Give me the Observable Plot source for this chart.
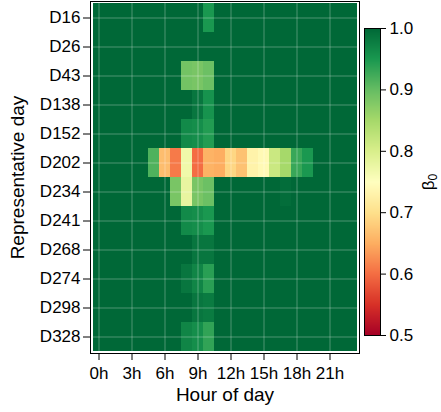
<!DOCTYPE html>
<html><head><meta charset="utf-8">
<script src="https://cdn.jsdelivr.net/npm/d3@7"></script>
<script src="https://cdn.jsdelivr.net/npm/@observablehq/plot@0.6"></script>
<style>
body{margin:0;background:#fff;}
#chart{position:relative;width:441px;height:412px;font-family:"Liberation Sans",Arial,sans-serif;}
#chart svg{position:absolute;top:0;}
</style></head><body><div id="chart"></div>
<script>
const days = ["D16","D26","D43","D138","D152","D202","D234","D241","D268","D274","D298","D328"];
const hours = [0,1,2,3,4,5,6,7,8,9,10,11,12,13,14,15,16,17,18,19,20,21,22,23];
const hourTicks = [0,3,6,9,12,15,18,21];
const colorTicks = [0.5,0.6,0.7,0.8,0.9,1.0];
const rdylgnStops = [0.5,0.55,0.6,0.65,0.7,0.75,0.8,0.85,0.9,0.95,1.0];
const rdylgnColors = ["#a50026","#d73027","#f46d43","#fdae61","#fee08b","#ffffbf","#d9ef8b","#a6d96a","#66bd63","#1a9850","#006837"];

// beta_0 per day (rows) and hour 0..23 (columns)
const D16  = [1,1,1,1,1,1,1,1,1,1,0.95,1,1,1,1,1,1,1,1,1,1,1,1,1];
const D26  = [1,1,1,1,1,1,1,1,1,1,1,1,1,1,1,1,1,1,1,1,1,1,1,1];
const D43  = [1,1,1,1,1,1,1,1,0.89,0.885,0.895,1,1,1,1,1,1,1,1,1,1,1,1,1];
const D138 = [1,1,1,1,1,1,1,1,1,0.985,0.955,1,1,1,1,1,1,1,1,1,1,1,1,1];
const D152 = [1,1,1,1,1,1,1,1,0.965,0.96,0.945,1,1,1,1,1,1,1,1,1,1,1,1,1];
const D202 = [1,1,1,1,1,0.915,0.665,0.61,0.77,0.6,0.655,0.65,0.69,0.67,0.73,0.74,0.815,0.85,0.93,0.95,1,1,1,1];
const D234 = [1,1,1,1,1,1,1,0.885,0.78,0.885,0.895,1,1,1,1,1,1,0.995,1,1,1,1,1,1];
const D241 = [1,1,1,1,1,1,1,1,0.965,0.96,0.95,1,1,1,1,1,1,1,1,1,1,1,1,1];
const D268 = [1,1,1,1,1,1,1,1,1,0.985,0.985,1,1,1,1,1,1,1,1,1,1,1,1,1];
const D274 = [1,1,1,1,1,1,1,1,0.985,0.97,0.94,1,1,1,1,1,1,1,1,1,1,1,1,1];
const D298 = [1,1,1,1,1,1,1,1,1,0.985,0.98,1,1,1,1,1,1,1,1,1,1,1,1,1];
const D328 = [1,1,1,1,1,1,1,1,0.97,0.96,0.935,1,1,1,1,1,1,1,1,1,1,1,1,1];
const beta = [D16,D26,D43,D138,D152,D202,D234,D241,D268,D274,D298,D328];

const cells = days.flatMap((d,i) => hours.map((h,j) => ({day:d, hour:h, value:beta[i][j]})));
const colorScale = {type:"linear", domain:rdylgnStops, range:rdylgnColors, interpolate:"rgb", clamp:true};
const font = '"Liberation Sans", Arial, sans-serif';

const main = Plot.plot({
  width:441, height:412, marginLeft:90, marginRight:82, marginTop:1, marginBottom:59,
  style:{fontFamily:font, fontSize:"17px", background:"transparent", color:"black"},
  x:{type:"band", domain:hours, padding:0},
  y:{type:"band", domain:days, padding:0},
  color:colorScale,
  marks:[
    Plot.cell(cells, {x:"hour", y:"day", fill:"value", shapeRendering:"crispEdges"}),
    Plot.gridX(hourTicks, {stroke:"white", strokeOpacity:0.3, strokeWidth:1}),
    Plot.gridY(days, {stroke:"white", strokeOpacity:0.3, strokeWidth:1}),
    Plot.frame({stroke:"black", strokeWidth:1}),
    Plot.axisX(hourTicks, {tickSize:7, tickPadding:6, tickFormat:d => d + "h", label:null, fontSize:17}),
    Plot.axisY(days, {tickSize:7, tickPadding:3, label:null, fontSize:17}),
    Plot.text(["Hour of day"], {frameAnchor:"bottom", dy:47, fontSize:19}),
    Plot.text(["Representative day"], {frameAnchor:"left", textAnchor:"middle", dx:-73, rotate:-90, fontSize:19})
  ]
});
main.style.left = "0px";

const bar = Plot.plot({
  width:77, height:360, marginLeft:0, marginRight:61, marginTop:28, marginBottom:25,
  style:{fontFamily:font, fontSize:"17px", background:"transparent", color:"black"},
  x:{domain:[0,1], axis:null},
  y:{domain:[0.5,1]},
  color:colorScale,
  marks:[
    Plot.raster({x1:0, x2:1, y1:0.5, y2:1, fill:(x, y) => y}),
    Plot.frame({stroke:"black", strokeWidth:1}),
    Plot.axisY(colorTicks, {anchor:"right", tickSize:5, tickPadding:4, tickFormat:d3.format(".1f"), label:null, fontSize:17}),
    Plot.text(["β0"], {frameAnchor:"right", textAnchor:"middle", rotate:-90, dx:48, fontSize:17})
  ]
});
bar.style.left = "364px";

// render the "0" of β0 as a subscript
d3.select(bar).selectAll("text").filter(function() { return this.textContent === "β0"; })
  .each(function() {
    const t = d3.select(this);
    t.text("β");
    t.append("tspan").attr("dy", "0.25em").attr("font-size", "12px").text("0");
  });

const el = document.getElementById("chart");
el.appendChild(main);
el.appendChild(bar);
</script></body></html>
